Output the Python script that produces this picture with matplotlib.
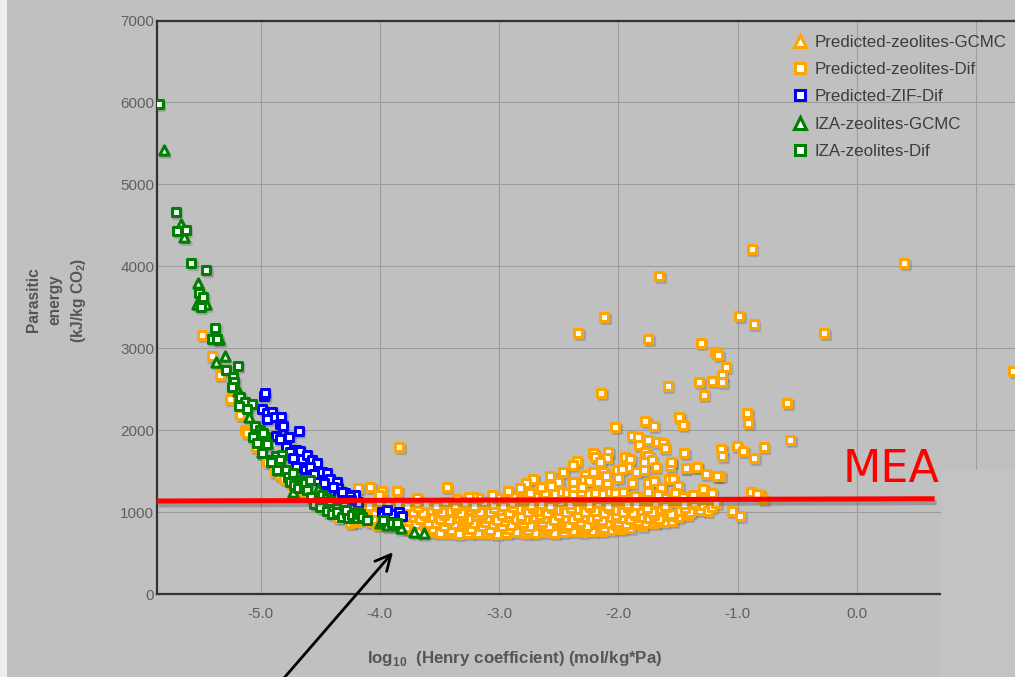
import numpy as np
import matplotlib
matplotlib.use("Agg")
import matplotlib.pyplot as plt
from matplotlib.lines import Line2D
from matplotlib.patches import Rectangle
from matplotlib.transforms import offset_copy

plt.rcParams['font.family'] = ['Liberation Sans', 'DejaVu Sans']
plt.rcParams['axes.unicode_minus'] = False
plt.rcParams['mathtext.fontset'] = 'custom'
plt.rcParams['mathtext.rm'] = 'Liberation Sans'
plt.rcParams['mathtext.bf'] = 'Liberation Sans:bold'

# ---- data (log10 Henry coefficient, parasitic energy kJ/kg CO2) ----
series_labels = ['Predicted-zeolites-GCMC', 'Predicted-zeolites-Dif', 'Predicted-ZIF-Dif',
                 'IZA-zeolites-GCMC', 'IZA-zeolites-Dif']

pred_zeo_gcmc = []  # only in legend

orange_curve = [(-5.487, 3156), (-5.41, 2904), (-5.34, 2668), (-5.26, 2379), (-5.17, 2184),
                (-5.13, 2001), (-5.115, 1965), (-5.04, 1800), (-4.945, 1607), (-4.88, 1492),
                (-4.84, 1452), (-4.80, 1400), (-4.725, 1330), (-4.65, 1260), (-4.585, 1187),
                (-4.54, 1106), (-4.48, 1050), (-4.43, 1004), (-4.35, 930), (-4.25, 862),
                (-4.2, 880), (-4.11, 923), (-4.05, 984)]

orange_row_a = [(-4.25, 1090), (-4.17, 1110), (-4.09, 1075), (-4.01, 1120), (-3.93, 1085), (-3.85, 1100),
                (-3.77, 1070), (-3.69, 1115), (-3.61, 1095), (-3.53, 1080), (-3.45, 1125), (-3.37, 1090),
                (-3.29, 1105), (-3.21, 1070), (-3.13, 1120), (-3.05, 1095), (-2.97, 1080), (-2.89, 1110),
                (-2.81, 1130), (-2.73, 1085), (-2.65, 1100), (-2.57, 1075), (-2.49, 1120), (-2.41, 1095),
                (-2.33, 1140), (-2.25, 1090), (-2.17, 1115), (-2.09, 1080), (-2.01, 1125), (-1.93, 1100),
                (-1.85, 1090), (-1.77, 1135), (-1.69, 1105), (-1.61, 1080), (-1.53, 1120), (-1.45, 1095),
                (-1.37, 1110), (-1.29, 1085)]
orange_row_ab = [(-4.16, 1050), (-4.0, 1060), (-3.84, 1045), (-3.68, 1065), (-3.52, 1055), (-3.36, 1050),
                 (-3.2, 1060), (-3.04, 1045), (-2.88, 1065), (-2.72, 1055), (-2.56, 1050), (-2.4, 1045),
                 (-2.24, 1060), (-2.08, 1055), (-1.92, 1065), (-1.76, 1050), (-1.6, 1060), (-1.44, 1045)]
orange_row_b = [(-4.28, 1010), (-4.2, 990), (-4.12, 1035), (-4.04, 1000), (-3.96, 1020), (-3.88, 985),
                (-3.8, 1040), (-3.72, 1005), (-3.64, 990), (-3.56, 1025), (-3.48, 1000), (-3.4, 1015),
                (-3.32, 985), (-3.24, 1030), (-3.16, 1005), (-3.08, 995), (-3.0, 1020), (-2.92, 990),
                (-2.84, 1035), (-2.76, 1000), (-2.68, 1010), (-2.6, 985), (-2.52, 1025), (-2.44, 1000),
                (-2.36, 1040), (-2.28, 995), (-2.2, 1015), (-2.12, 985), (-2.04, 1030), (-1.96, 1005),
                (-1.88, 990), (-1.8, 1020), (-1.72, 1000), (-1.64, 1035), (-1.56, 980), (-1.48, 1010),
                (-1.40, 995), (-1.32, 1030)]
orange_row_bc = [(-4.1, 960), (-3.94, 965), (-3.78, 955), (-3.62, 970), (-3.46, 960), (-3.3, 950),
                 (-3.14, 965), (-2.98, 960), (-2.82, 955), (-2.66, 970), (-2.5, 960), (-2.34, 965),
                 (-2.18, 955), (-2.02, 960), (-1.86, 970), (-1.7, 965), (-1.54, 975)]
orange_row_c = [(-4.22, 905), (-4.14, 930), (-4.06, 915), (-3.98, 940), (-3.9, 900), (-3.82, 925),
                (-3.74, 935), (-3.66, 910), (-3.58, 945), (-3.5, 920), (-3.42, 905), (-3.34, 930),
                (-3.26, 915), (-3.18, 950), (-3.1, 925), (-3.02, 900), (-2.94, 935), (-2.86, 920),
                (-2.78, 910), (-2.7, 945), (-2.62, 925), (-2.54, 905), (-2.46, 930), (-2.38, 915),
                (-2.3, 940), (-2.22, 920), (-2.14, 905), (-2.06, 935), (-1.98, 925), (-1.9, 910),
                (-1.82, 945), (-1.74, 930), (-1.66, 920), (-1.58, 950), (-1.5, 935), (-1.42, 960)]
orange_row_cd = [(-4.08, 880), (-3.92, 875), (-3.76, 885), (-3.6, 870), (-3.44, 890), (-3.28, 880),
                 (-3.12, 875), (-2.96, 885), (-2.8, 870), (-2.64, 880), (-2.48, 890), (-2.32, 875),
                 (-2.16, 885), (-2.0, 880), (-1.84, 895), (-1.68, 905)]
orange_row_d = [(-4.02, 845), (-3.94, 830), (-3.86, 860), (-3.78, 820), (-3.7, 850), (-3.62, 835),
                (-3.54, 865), (-3.46, 825), (-3.38, 850), (-3.3, 840), (-3.22, 870), (-3.14, 830),
                (-3.06, 855), (-2.98, 825), (-2.9, 845), (-2.82, 860), (-2.74, 835), (-2.66, 850),
                (-2.58, 825), (-2.5, 865), (-2.42, 840), (-2.34, 855), (-2.26, 830), (-2.18, 850),
                (-2.1, 865), (-2.02, 840), (-1.94, 860), (-1.86, 850), (-1.78, 870), (-1.7, 865),
                (-1.62, 880), (-1.55, 890)]
orange_row_de = [(-3.74, 800), (-3.56, 790), (-3.4, 785), (-3.24, 790), (-3.08, 780), (-2.92, 795),
                 (-2.76, 785), (-2.6, 790), (-2.44, 800), (-2.28, 795), (-2.12, 805), (-1.96, 815),
                 (-1.8, 835)]
orange_row_e = [(-3.78, 790), (-3.68, 770), (-3.58, 755), (-3.5, 745), (-3.42, 750), (-3.34, 735),
                (-3.26, 745), (-3.18, 740), (-3.1, 750), (-3.02, 735), (-2.94, 745), (-2.86, 755),
                (-2.78, 740), (-2.7, 750), (-2.62, 760), (-2.54, 745), (-2.46, 755), (-2.38, 765),
                (-2.3, 760), (-2.22, 770), (-2.14, 775), (-2.07, 781), (-1.98, 790), (-1.9, 800)]
orange_row_f = [(-3.35, 1160), (-3.18, 1175), (-3.02, 1170), (-2.88, 1190), (-2.79, 1165), (-2.7, 1180),
                (-2.6, 1195), (-2.52, 1170), (-2.44, 1185), (-2.35, 1160), (-2.27, 1200), (-2.18, 1175),
                (-2.1, 1190), (-2.02, 1165), (-1.94, 1180), (-1.86, 1195), (-1.78, 1170), (-1.7, 1185),
                (-1.62, 1175), (-1.54, 1160), (-1.46, 1190), (-1.38, 1170), (-1.3, 1165)]
orange_row_g = [(-2.77, 1240), (-2.74, 1228), (-2.615, 1235), (-2.53, 1220), (-2.475, 1245), (-2.43, 1230),
                (-2.38, 1215), (-2.31, 1240), (-2.25, 1225), (-2.196, 1235), (-2.126, 1220), (-2.07, 1245),
                (-2.03, 1230), (-1.96, 1225)]
orange_fringe = [(-4.18, 1290), (-4.08, 1302), (-3.985, 1261), (-3.853, 1261), (-3.44, 1302), (-4.01, 1208),
                 (-3.69, 1167), (-3.216, 1187), (-3.836, 1793), (-3.06, 1208), (-3.25, 1187),
                 (-2.21, 1724), (-2.196, 1675), (-2.084, 1736), (-2.092, 1655), (-2.154, 1614), (-2.35, 1622),
                 (-2.384, 1574), (-2.014, 1513), (-2.0, 1419), (-2.28, 1452), (-2.21, 1485), (-2.126, 1492),
                 (-2.173, 1363), (-2.098, 1350), (-2.104, 1440), (-2.285, 1391), (-2.246, 1379),
                 (-2.378, 1310), (-2.308, 1310), (-2.573, 1443), (-2.462, 1492), (-2.504, 1370),
                 (-2.567, 1318), (-2.384, 1370), (-2.649, 1310), (-2.713, 1399), (-2.774, 1350),
                 (-2.825, 1290), (-2.923, 1257),
                 (-1.889, 1931), (-1.84, 1919), (-1.749, 1879), (-1.83, 1818), (-1.68, 1858), (-1.63, 1846),
                 (-1.61, 1785), (-1.945, 1668), (-1.90, 1643), (-1.777, 1729), (-1.749, 1684), (-1.79, 1614),
                 (-1.72, 1635), (-1.562, 1614), (-1.567, 1562), (-1.687, 1553), (-1.917, 1553),
                 (-1.972, 1521), (-1.852, 1492), (-1.785, 1513), (-1.436, 1533), (-1.344, 1553),
                 (-1.176, 1440), (-1.145, 1440), (-1.889, 1350), (-1.749, 1358), (-1.706, 1379),
                 (-1.58, 1399), (-1.545, 1399), (-1.643, 1290), (-1.498, 1318), (-1.958, 1248),
                 (-1.749, 1241), (-1.671, 1208), (-1.526, 1237), (-1.377, 1208), (-1.294, 1281),
                 (-1.218, 1228), (-0.889, 1248), (-0.82, 1220), (-0.786, 1155),
                 (-1.25, 1010), (-1.22, 1060), (-1.18, 1110), (-1.05, 1010), (-0.98, 950)]
orange_outliers = [(-0.883, 4205), (0.397, 4042), (-1.657, 3876), (-2.118, 3376), (-2.339, 3188),
                   (-1.749, 3107), (-0.987, 3396), (-0.866, 3298), (-0.277, 3188), (-1.31, 3066),
                   (-1.19, 2949), (-1.163, 2912), (-1.10, 2773), (-1.134, 2672), (-1.324, 2590),
                   (-1.213, 2602), (-1.13, 2590), (-1.587, 2538), (-1.285, 2424), (-2.143, 2452),
                   (1.31, 2721), (-0.584, 2330), (-0.919, 2205), (-0.911, 2090), (-0.562, 1882),
                   (-2.025, 2034), (-1.777, 2111), (-1.704, 2054), (-1.492, 2159), (-1.459, 2066),
                   (-1.008, 1809), (-0.956, 1748), (-0.78, 1789), (-0.863, 1659), (-1.137, 1765),
                   (-1.13, 1687), (-1.45, 1724), (-1.559, 1614), (-1.436, 1537), (-1.341, 1553),
                   (-1.268, 1460), (-1.171, 1436), (-1.294, 1277), (-1.218, 1228), (-0.889, 1241),
                   (-0.836, 1220)]

zif_dif = [(-4.97, 2419), (-4.965, 2456), (-4.985, 2253), (-4.95, 2212), (-4.90, 2224), (-4.95, 2131),
           (-4.875, 2163), (-4.825, 2156), (-4.84, 2074), (-4.815, 2050), (-4.87, 1928), (-4.84, 1895),
           (-4.76, 1912), (-4.68, 1992), (-4.79, 1797), (-4.70, 1757), (-4.75, 1736), (-4.67, 1748),
           (-4.725, 1655), (-4.655, 1643), (-4.70, 1553), (-4.625, 1513), (-4.61, 1431), (-4.613, 1696),
           (-4.57, 1635), (-4.53, 1594), (-4.585, 1546), (-4.488, 1492), (-4.445, 1472), (-4.515, 1391),
           (-4.417, 1399), (-4.361, 1370), (-4.445, 1310), (-4.347, 1290), (-4.417, 1228), (-4.291, 1228),
           (-4.264, 1167), (-4.18, 1119), (-4.208, 1208), (-4.306, 1196), (-4.25, 1196), (-4.18, 1106),
           (-3.985, 1004), (-3.97, 964), (-3.90, 976), (-3.836, 1004), (-3.817, 952), (-3.94, 1025),
           (-4.55, 1460), (-4.47, 1350), (-4.39, 1310), (-4.32, 1250), (-4.24, 1150)]

iza_gcmc = [(-5.81, 5417), (-5.67, 4514), (-5.64, 4359), (-5.525, 3798), (-5.53, 3538), (-5.46, 3538),
            (-5.345, 3111), (-5.30, 2900), (-5.37, 2832), (-5.185, 2480), (-5.17, 2428), (-5.10, 2163),
            (-4.95, 1846), (-4.99, 1736), (-4.892, 1675), (-4.85, 1513), (-4.725, 1248), (-4.515, 1280),
            (-4.35, 1040), (-4.0, 862), (-3.975, 882), (-3.94, 842), (-3.86, 854), (-3.82, 801),
            (-3.71, 752), (-3.63, 740)]

iza_dif = [(-5.855, 5975), (-5.71, 4657), (-5.70, 4433), (-5.625, 4441), (-5.58, 4042), (-5.457, 3953),
           (-5.515, 3676), (-5.48, 3627), (-5.50, 3505), (-5.38, 3241), (-5.41, 3111), (-5.365, 3111),
           (-5.19, 2786), (-5.29, 2729), (-5.235, 2644), (-5.22, 2590), (-5.24, 2522), (-5.17, 2399),
           (-5.13, 2339), (-5.18, 2297), (-5.07, 2314), (-5.11, 2257), (-5.05, 2054), (-5.005, 2001),
           (-5.065, 1912), (-4.96, 1919), (-5.03, 1838), (-4.95, 1830), (-4.98, 1960), (-4.99, 1724),
           (-4.87, 1687), (-4.906, 1635), (-4.82, 1696), (-4.835, 1635), (-4.915, 1614), (-4.842, 1546),
           (-4.865, 1513), (-4.79, 1513), (-4.77, 1431), (-4.73, 1480), (-4.75, 1370), (-4.72, 1330),
           (-4.669, 1391), (-4.655, 1358), (-4.683, 1290), (-4.635, 1290), (-4.627, 1350), (-4.585, 1391),
           (-4.613, 1269), (-4.488, 1208), (-4.445, 1167), (-4.58, 1180), (-4.52, 1120), (-4.47, 1080),
           (-4.42, 1130), (-4.55, 1100), (-4.50, 1060), (-4.44, 1016), (-4.39, 1025), (-4.40, 980),
           (-4.361, 1045), (-4.36, 1000), (-4.32, 943), (-4.30, 1080), (-4.277, 984), (-4.28, 1025),
           (-4.264, 923), (-4.23, 960), (-4.194, 923), (-4.194, 1004), (-4.17, 980), (-4.152, 943),
           (-4.11, 900), (-3.97, 903), (-3.90, 862), (-3.86, 862)]

mea_x = [-5.87, 0.65]
mea_y = [1135, 1163]
arrow_tail = (-4.80, -1020)
arrow_head = (-3.89, 510)

x_ticks = [-5.0, -4.0, -3.0, -2.0, -1.0, 0.0, 1.0]
y_ticks = [0, 1000, 2000, 3000, 4000, 5000, 6000, 7000]

orange_dif = (orange_curve + orange_row_e + orange_row_de + orange_row_d + orange_row_cd + orange_row_c
              + orange_row_bc + orange_row_b + orange_row_ab + orange_row_a + orange_row_f + orange_row_g
              + orange_fringe + orange_outliers)

ORANGE, BLUE, GREEN = '#FFA500', '#0000FF', '#008000'
BG = '#C0C0C0'
W, H = 1015, 677

fig = plt.figure(figsize=(W / 100, H / 100), dpi=100, facecolor=BG)
ax = fig.add_axes([157 / W, 83 / H, (1036 - 157) / W, 573.5 / H])
ax.set_facecolor(BG)
ax.set_xlim(-5.868, 1.5)
ax.set_ylim(0, 7000)

ax.set_xticks(x_ticks)
ax.set_xticklabels(['%.1f' % v for v in x_ticks])
ax.set_yticks(y_ticks)
ax.set_yticklabels([str(v) for v in y_ticks])
ax.tick_params(length=0, labelsize=11, labelcolor='#606060')
ax.tick_params(axis='x', pad=9)
ax.tick_params(axis='y', pad=2)
ax.grid(True, color='#9C9C9C', lw=0.8)
ax.set_axisbelow(True)
for side in ['left', 'bottom', 'top']:
    ax.spines[side].set_color('#333333')
    ax.spines[side].set_linewidth(1.6)
ax.spines['right'].set_visible(False)

shadow = offset_copy(ax.transData, fig=fig, x=1.5, y=-2.0, units='dots')

def draw(points, marker, color, size, z):
    pts = np.array(points)
    ax.scatter(pts[:, 0], pts[:, 1], s=size, marker=marker, color='#303030', alpha=0.18,
               linewidths=2.4, transform=shadow, zorder=2)
    ax.scatter(pts[:, 0], pts[:, 1], s=size, marker=marker, facecolors='white',
               edgecolors=color, linewidths=2.2, zorder=z)

draw(orange_dif, 's', ORANGE, 27, 3)
draw(zif_dif, 's', BLUE, 27, 4)
draw(iza_gcmc, '^', GREEN, 45, 5)
draw(iza_dif, 's', GREEN, 27, 6)

# MEA reference line with its shadow
mea_shadow = offset_copy(ax.transData, fig=fig, x=2, y=-4, units='dots')
ax.plot(mea_x, mea_y, color='#505050', lw=3.6, alpha=0.35, transform=mea_shadow,
        zorder=7, solid_capstyle='butt', clip_on=False)
ax.plot(mea_x, mea_y, color='#FF0000', lw=3.6, zorder=8, solid_capstyle='butt', clip_on=False)
fig.text(940 / W, 1 - 482 / H, 'MEA', color='#FF0000', fontsize=32, family='DejaVu Sans',
         ha='right', va='baseline', zorder=10)

ax.annotate('', xy=arrow_head, xytext=arrow_tail, xycoords='data', textcoords='data',
            arrowprops=dict(arrowstyle='->', lw=2, color='black', mutation_scale=28,
                            shrinkA=0, shrinkB=0), annotation_clip=False, zorder=9)

# legend
handles = [
    Line2D([], [], ls='none', marker='^', ms=9, mfc='white', mec=ORANGE, mew=2.2),
    Line2D([], [], ls='none', marker='s', ms=7, mfc='white', mec=ORANGE, mew=2.2),
    Line2D([], [], ls='none', marker='s', ms=7, mfc='white', mec=BLUE, mew=2.2),
    Line2D([], [], ls='none', marker='^', ms=9, mfc='white', mec=GREEN, mew=2.2),
    Line2D([], [], ls='none', marker='s', ms=7, mfc='white', mec=GREEN, mew=2.2),
]
leg = fig.legend(handles, series_labels, loc='upper left', bbox_to_anchor=(792 / W, 1 - 35 / H),
                 frameon=False, fontsize=12.2, labelspacing=0.72, handlelength=0.9,
                 handletextpad=0.45, borderaxespad=0, borderpad=0)
for t in leg.get_texts():
    t.set_color('#3C3C3C')

# axis titles
fig.text(515 / W, 1 - 658 / H, r'log$_{\mathbf{10}}$  (Henry coefficient) (mol/kg*Pa)',
         ha='center', va='center', fontsize=12.2, fontweight='bold', color='#555555',
         family=['Liberation Sans Narrow', 'Liberation Sans'])
fig.text(57 / W, 1 - 300 / H, 'Parasitic\nenergy\n(kJ/kg CO$_{\\mathbf{2}}$)', rotation=90,
         ha='center', va='center', multialignment='center', fontsize=11.2,
         fontweight='bold', color='#555555', linespacing=1.5)

# lighter patch over the lower right corner and the left page border
fig.patches.append(Rectangle((941 / W, 0), (W - 941) / W, 1 - 470 / H, transform=fig.transFigure,
                             facecolor='#C3C3C3', edgecolor='none', zorder=5))
fig.patches.append(Rectangle((0, 0), 7 / W, 1, transform=fig.transFigure,
                             facecolor='#EFEFEF', edgecolor='none', zorder=5))

fig.savefig('out.png', dpi=100, facecolor=BG)
